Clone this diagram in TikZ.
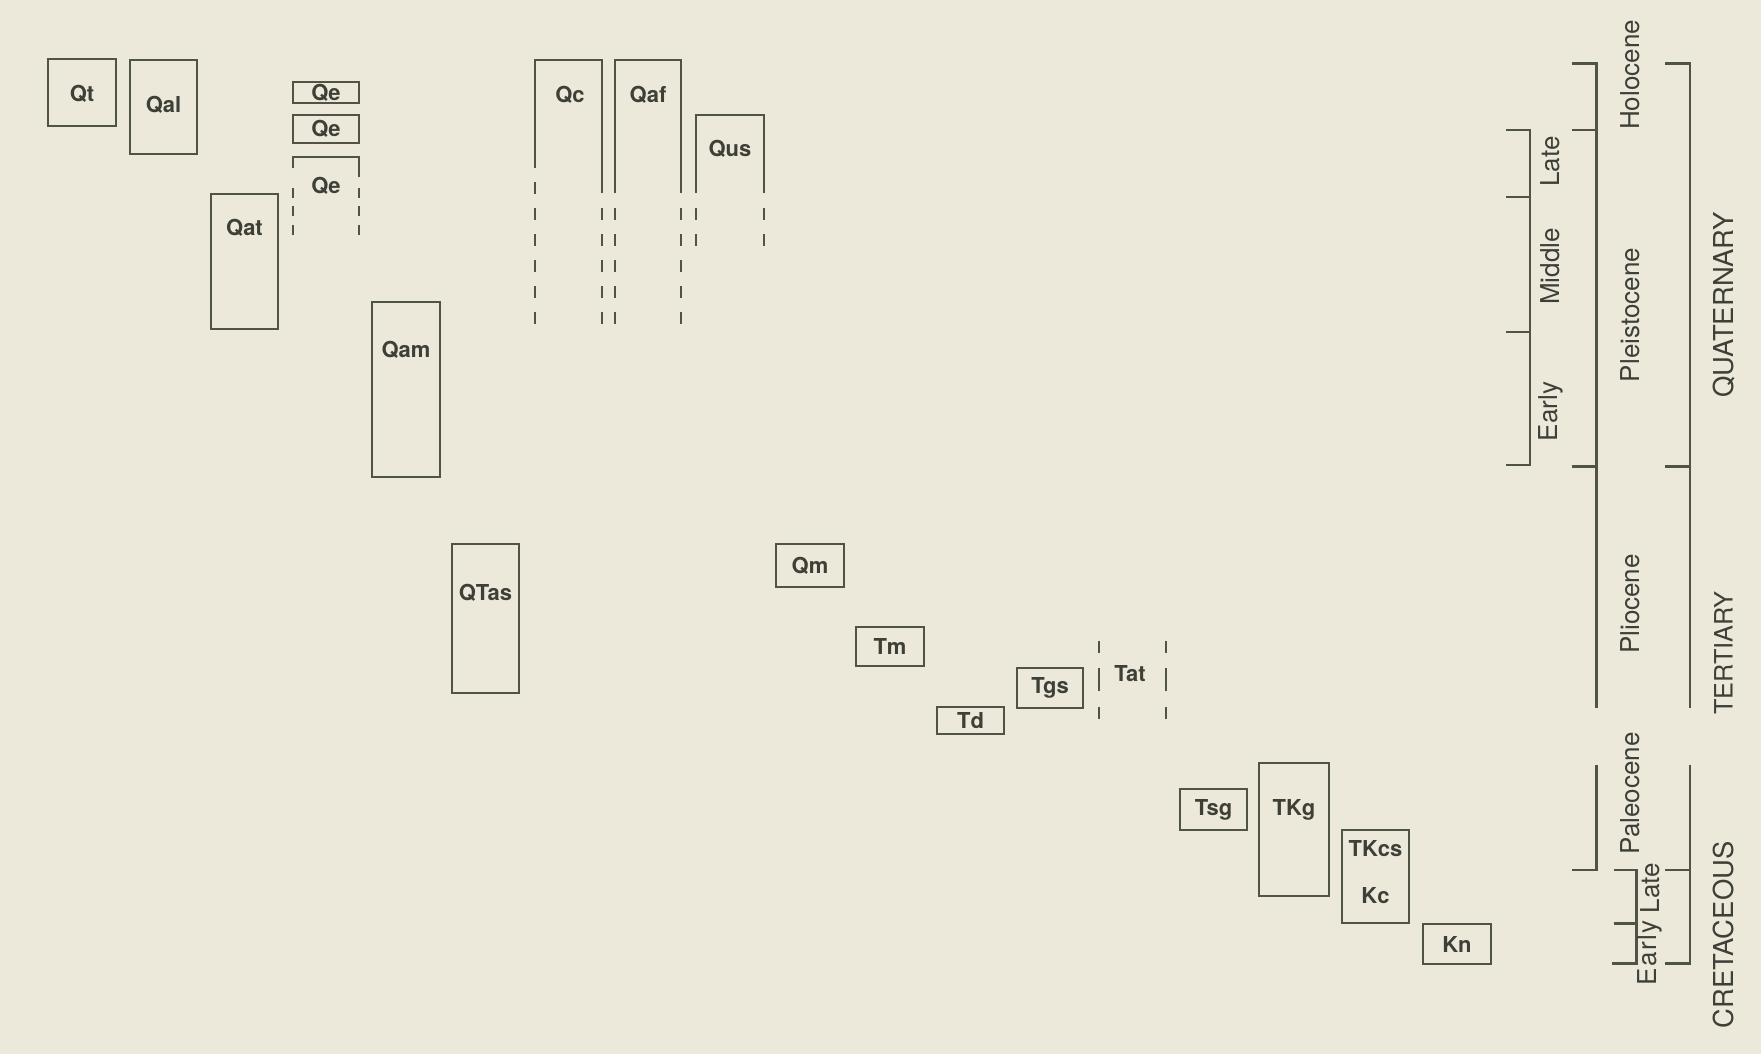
\documentclass[tikz,border=0pt]{standalone}
\usepackage{fontspec}
\setmainfont{TeX Gyre Heros}
\definecolor{paper}{RGB}{236,233,218}
\definecolor{ink}{RGB}{80,84,70}
\definecolor{print}{RGB}{62,64,56}

\begin{document}
\begin{tikzpicture}[
  line width=1.3pt, color=ink,
  unit/.style={text=print, font=\bfseries\fontsize{12.5}{15}\selectfont},
  epoch/.style={text=print, rotate=90, font=\fontsize{14.8}{17}\selectfont},
  period/.style={text=print, rotate=90, font=\fontsize{15.6}{18}\selectfont},
  open/.style={dash pattern=on 0.24cm off 0.28cm}
]

\fill[paper] (0,0) rectangle (35.22,21.08);
\useasboundingbox (0,0) rectangle (35.22,21.08);

% Quaternary units
\draw (0.96,18.56) rectangle (2.32,19.90); % Qt
\node[unit] (qt) at (1.64,19.20) {Qt};
\draw (2.60,18.00) rectangle (3.94,19.88); % Qal
\node[unit] (qal) at (3.27,18.98) {Qal};

\draw (5.86,19.02) rectangle (7.18,19.44); % Qe
\node[unit] (qe1) at (6.52,19.23) {Qe};
\draw (5.86,18.22) rectangle (7.18,18.78);
\node[unit] (qe2) at (6.52,18.50) {Qe};
\draw (5.86,17.72) -- (5.86,17.94) -- (7.18,17.94) -- (7.18,17.54);
\draw[dash pattern=on 0.2cm off 0.17cm] (5.86,17.32) -- (5.86,16.38) (7.18,17.32) -- (7.18,16.38);
\node[unit] (qe3) at (6.52,17.36) {Qe};

\draw (4.22,14.50) rectangle (5.56,17.20); % Qat
\node[unit] (qat) at (4.89,16.52) {Qat};
\draw (7.44,11.54) rectangle (8.80,15.04); % Qam
\node[unit] (qam) at (8.12,14.08) {Qam};
\draw (9.04,7.22) rectangle (10.38,10.20); % QTas
\node[unit] (qtas) at (9.71,9.22) {QTas};

\draw (10.70,17.72) -- (10.70,19.88) -- (12.04,19.88) -- (12.04,17.22); % Qc
\draw[open] (10.70,17.44) -- (10.70,14.54) (12.04,16.92) -- (12.04,14.54);
\node[unit] (qc) at (11.40,19.18) {Qc};
\draw (12.30,17.22) -- (12.30,19.88) -- (13.62,19.88) -- (13.62,17.22); % Qaf
\draw[open] (12.30,16.92) -- (12.30,14.54) (13.62,16.92) -- (13.62,14.54);
\node[unit] (qaf) at (12.96,19.18) {Qaf};
\draw (13.92,17.22) -- (13.92,18.78) -- (15.28,18.78) -- (15.28,17.22); % Qus
\draw[open] (13.92,16.92) -- (13.92,16.14) (15.28,16.92) -- (15.28,16.14);
\node[unit] (qus) at (14.60,18.11) {Qus};

\draw (15.52,9.34) rectangle (16.88,10.20); % Qm
\node[unit] (qm) at (16.20,9.77) {Qm};

% Tertiary and Cretaceous units
\draw (17.12,7.76) rectangle (18.48,8.54); % Tm
\node[unit] (tm) at (17.80,8.15) {Tm};
\draw (18.74,6.40) rectangle (20.08,6.94); % Td
\node[unit] (td) at (19.41,6.67) {Td};
\draw (20.34,6.92) rectangle (21.66,7.72); % Tgs
\node[unit] (tgs) at (21.00,7.32) {Tgs};
\draw[dash pattern=on 0.24cm off 0.30cm on 0.46cm off 0.32cm]
  (21.98,8.26) -- (21.98,6.70) (23.32,8.26) -- (23.32,6.70); % Tat
\node[unit] (tat) at (22.60,7.60) {Tat};

\draw (23.60,4.48) rectangle (24.94,5.30); % Tsg
\node[unit] (tsg) at (24.27,4.89) {Tsg};
\draw (25.18,3.16) rectangle (26.58,5.82); % TKg
\node[unit] (tkg) at (25.88,4.88) {TKg};
\draw (26.84,2.62) rectangle (28.18,4.48); % TKcs, Kc
\node[unit] (tkcs) at (27.51,4.10) {TKcs};
\node[unit] (kc) at (27.51,3.16) {Kc};
\draw (28.46,1.80) rectangle (29.82,2.60); % Kn
\node[unit] (kn) at (29.14,2.20) {Kn};

% Pleistocene subdivisions
\draw (30.12,18.48) -- (30.60,18.48) -- (30.60,11.78) -- (30.12,11.78);
\draw (30.12,17.14) -- (30.60,17.14) (30.12,14.44) -- (30.60,14.44);
\node[epoch] (plate) at (31.01,17.85) {Late};
\node[epoch] (pmiddle) at (31.01,15.75) {Middle};
\node[epoch] (pearly) at (31.01,12.85) {Early};

% epochs
\draw (31.43,19.81) -- (31.93,19.81) -- (31.93,6.91);
\draw (31.43,18.48) -- (31.93,18.48) (31.43,11.75) -- (31.93,11.75);
\draw (31.93,5.78) -- (31.93,3.68) -- (31.43,3.68);
\node[epoch] (holocene) at (32.60,19.58) {Holocene};
\node[epoch] (pleistocene) at (32.60,14.78) {Pleistocene};
\node[epoch] (pliocene) at (32.60,9.00) {Pliocene};
\node[epoch] (paleocene) at (32.60,5.21) {Paleocene};

% Cretaceous subdivisions
\draw (32.27,3.68) -- (32.73,3.68) -- (32.73,1.81) -- (32.24,1.81);
\draw (32.27,2.61) -- (32.73,2.61);
\node[epoch] (klate) at (33.01,3.32) {Late};
\node[epoch, font=\fontsize{14.8}{17}\selectfont\addfontfeature{LetterSpace=6}] (kearly) at (33.00,2.02) {Early};

% periods
\draw (33.30,19.81) -- (33.80,19.81) -- (33.80,6.91);
\draw (33.30,11.75) -- (33.80,11.75);
\draw (33.80,5.78) -- (33.80,1.81) -- (33.30,1.81);
\draw (33.30,3.68) -- (33.80,3.68);
\node[period] (quaternary) at (34.47,14.98) {QUATERNARY};
\node[period, font=\fontsize{14.4}{17}\selectfont] (tertiary) at (34.47,8.02) {TERTIARY};
\node[period] (cretaceous) at (34.47,2.38) {CRETACEOUS};

\end{tikzpicture}
\end{document}
